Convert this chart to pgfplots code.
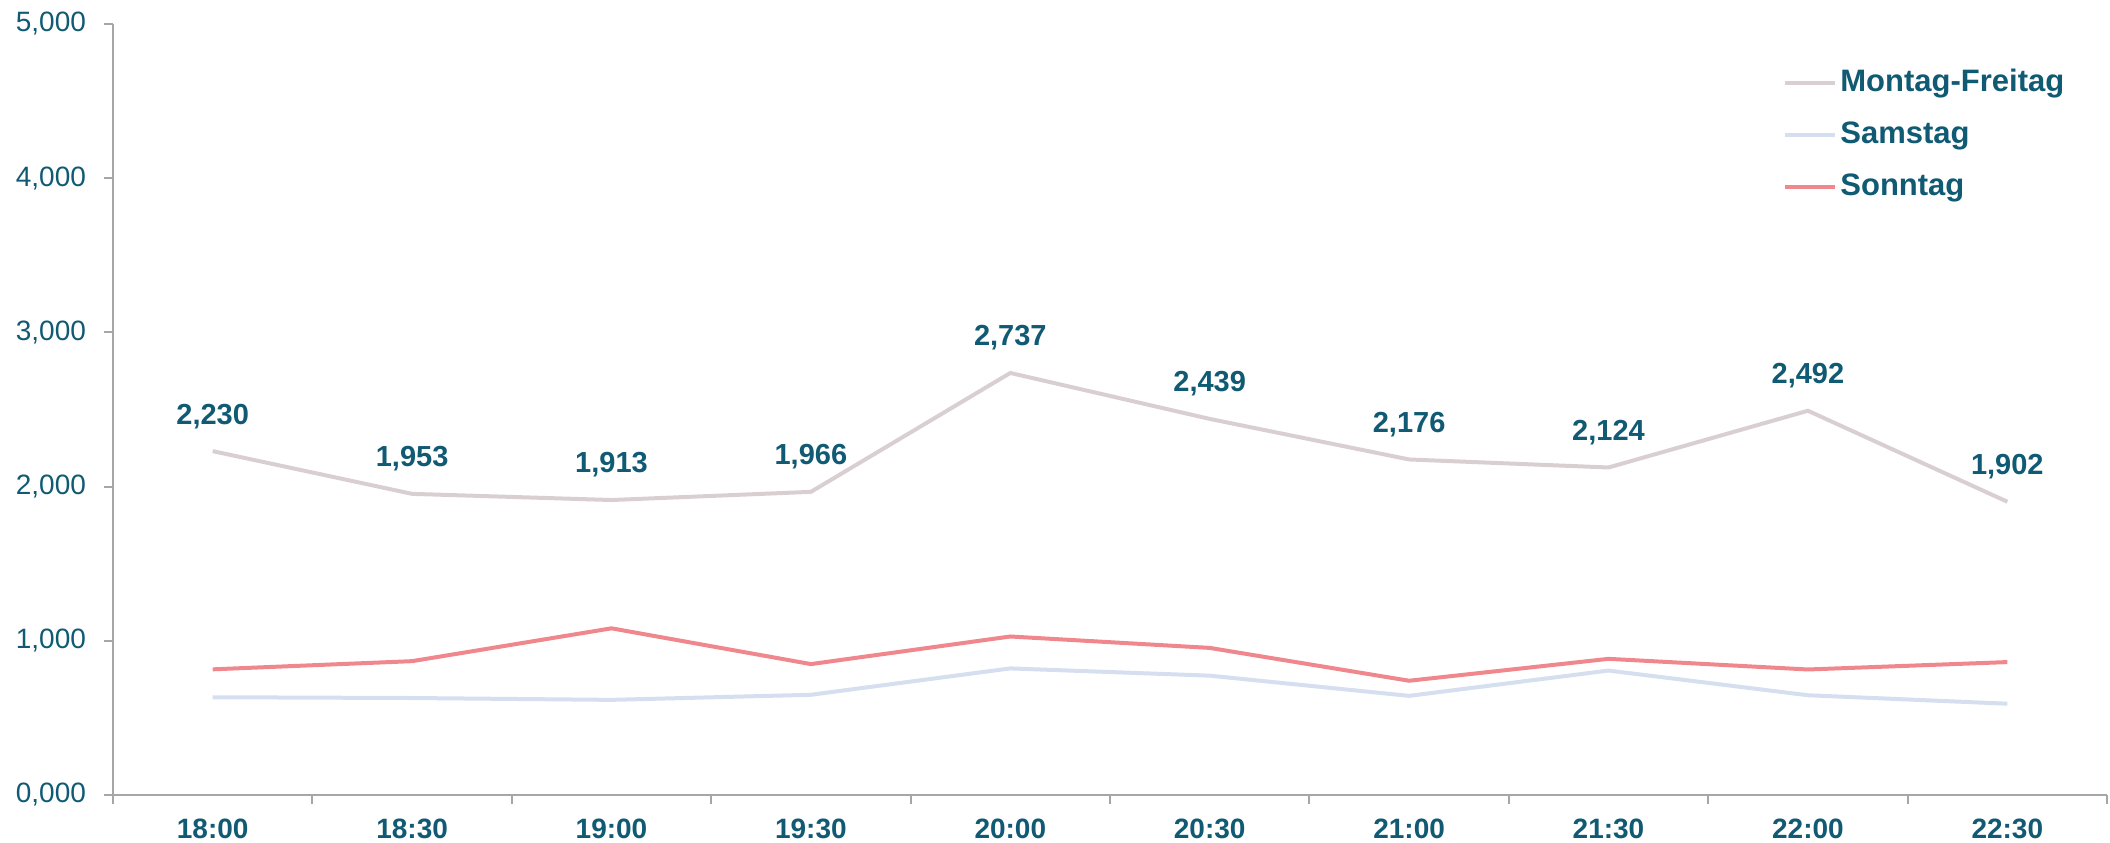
\documentclass[border=0pt]{standalone}
\usepackage{pgfplots}
\pgfplotsset{compat=1.18}
\usepackage{fontspec}
\setmainfont{Liberation Sans}
\definecolor{txt}{HTML}{105A73}
\definecolor{mf}{HTML}{D9CFD1}
\definecolor{sa}{HTML}{D5DFF0}
\definecolor{so}{HTML}{F0878C}
\definecolor{axc}{HTML}{A6A6A6}
\begin{document}
\begin{tikzpicture}
\begin{axis}[
  scale only axis,
  width=997pt, height=385.5pt,
  xmin=-0.5, xmax=9.5,
  ymin=0, ymax=5000,
  axis x line*=bottom, axis y line*=left,
  axis line style={draw=axc, line width=1pt},
  tick style={draw=axc, line width=1pt},
  tick align=outside,
  major tick length=4.5pt,
  xtick={-0.5,0.5,...,9.5},
  xticklabels={},
  extra x ticks={0,1,2,3,4,5,6,7,8,9},
  extra x tick labels={18:00,18:30,19:00,19:30,20:00,20:30,21:00,21:30,22:00,22:30},
  extra x tick style={major tick length=0pt, tick style={draw=none}},
  xticklabel style={font=\fontsize{14}{16}\selectfont\bfseries, text=txt, yshift=-8.5pt},
  ytick={0,1000,2000,3000,4000,5000},
  yticklabels={{0,000},{1,000},{2,000},{3,000},{4,000},{5,000}},
  yticklabel style={font=\fontsize{14}{16}\selectfont, text=txt, xshift=-5.5pt},
  legend style={draw=none, fill=none, anchor=north west, at={(0.8375,0.9455)},
    inner xsep=0pt, inner ysep=0pt, row sep=9pt,
    font=\fontsize{15.5}{17}\selectfont\bfseries, text=txt,
    nodes={inner sep=1.5pt, text height=11pt, text depth=3pt}},
  legend image code/.code={\draw[#1, line width=2pt] (0pt,0pt) -- (25pt,0pt);},
  legend cell align=left,
  clip=false,
]
\addplot[mf, line width=2pt, mark=none,
  nodes near coords,
  nodes near coords style={anchor=center, yshift=17.5pt, text=txt,
    font=\fontsize{14.5}{16}\selectfont\bfseries,
    /pgf/number format/.cd, fixed, precision=0, 1000 sep={,}, assume math mode=true},
] coordinates {(0,2230) (1,1953) (2,1913) (3,1966) (4,2737) (5,2439) (6,2176) (7,2124) (8,2492) (9,1902)};
\addlegendentry{Montag-Freitag}
\addplot[sa, line width=2pt, mark=none] coordinates {(0,634) (1,629) (2,617) (3,650) (4,821) (5,774) (6,643) (7,807) (8,647) (9,592)};
\addlegendentry{Samstag}
\addplot[so, line width=2pt, mark=none] coordinates {(0,815) (1,868) (2,1081) (3,849) (4,1028) (5,954) (6,741) (7,883) (8,814) (9,862)};
\addlegendentry{Sonntag}
\end{axis}
\pgfresetboundingbox
\path[use as bounding box] ([shift={(-56.5pt,-23.5pt)}]current axis.south west) rectangle ([shift={(1.5pt,12pt)}]current axis.north east);
\end{tikzpicture}
\end{document}
